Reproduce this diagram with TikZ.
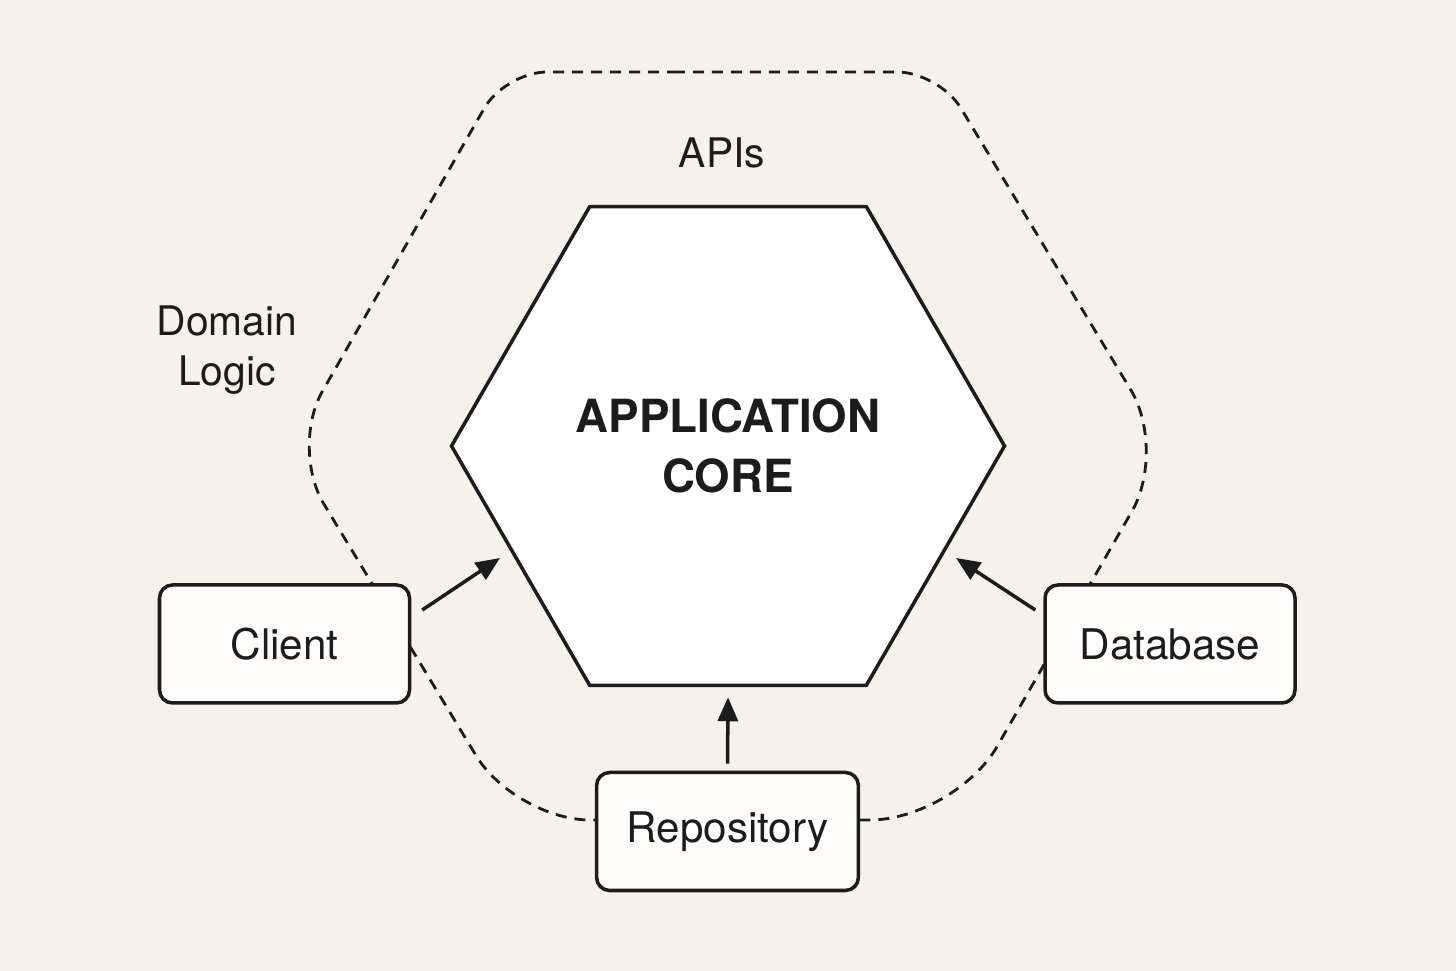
\documentclass[tikz,border=0pt]{standalone}
\usepackage{fontspec}
\setmainfont{TeX Gyre Heros}
\usetikzlibrary{shapes.geometric,arrows.meta}
\definecolor{paper}{HTML}{F5F2EE}
\definecolor{boxfill}{HTML}{FEFDFC}
\definecolor{ink}{HTML}{1C1C1C}
\tikzset{
  portbox/.style={draw=ink,fill=boxfill,line width=1pt,rounded corners=0.13cm,
    minimum width=2.5cm,minimum height=1.18cm,inner xsep=0.3cm,text=ink,
    font=\fontsize{12}{14}\selectfont},
  corehex/.style={regular polygon,regular polygon sides=6,draw=ink,fill=white,
    line width=1pt,minimum size=5.53cm,text=ink,align=center,
    font=\fontsize{13}{17}\selectfont\bfseries},
  portarrow/.style={-{Triangle[length=0.24cm,width=0.2cm]},draw=ink,line width=1pt},
  layerline/.style={draw=ink,line width=0.8pt,dash pattern=on 0.11cm off 0.08cm},
  tag/.style={text=ink,font=\fontsize{11.6}{14}\selectfont,align=center}
}

\begin{document}
\begin{tikzpicture}
    % Background
    \fill[paper] (0,0) rectangle (14.56,9.71);
    \useasboundingbox (0,0) rectangle (14.56,9.71);

    % Outer layer
    \draw[layerline] (7.20,8.99) [rounded corners=0.42cm] -- (5.05,8.99)
      [rounded corners=0.65cm] -- (2.90,5.23)
      [rounded corners=0.75cm] -- (5.15,1.51)
      [rounded corners=0.85cm] -- (9.55,1.51)
      [rounded corners=0.7cm] -- (11.67,5.21)
      [rounded corners=0.42cm] -- (9.39,8.99) -- cycle;
    \node[tag] (apis) at (7.22,8.18) {APIs};
    \node[tag] (domain) at (2.27,6.21) {Domain\\Logic};

    % Core
    \node[corehex] (core) at (7.28,5.25) {APPLICATION\\CORE};

    % Adapters
    \node[portbox] (client) at (2.845,3.27) {Client};
    \node[portbox] (database) at (11.70,3.27) {Database};
    \node[portbox] (repository) at (7.275,1.395) {Repository};

    % Arrows into the core
    \draw[portarrow] ([shift={(0.11,0.34)}]client.east) -- ([shift={(-2.28,-1.12)}]core.center);
    \draw[portarrow] ([shift={(-0.08,0.34)}]database.west) -- ([shift={(2.28,-1.12)}]core.center);
    \draw[portarrow] ([yshift=0.07cm]repository.north) -- ([yshift=-0.1cm]core.south);
\end{tikzpicture}
\end{document}
